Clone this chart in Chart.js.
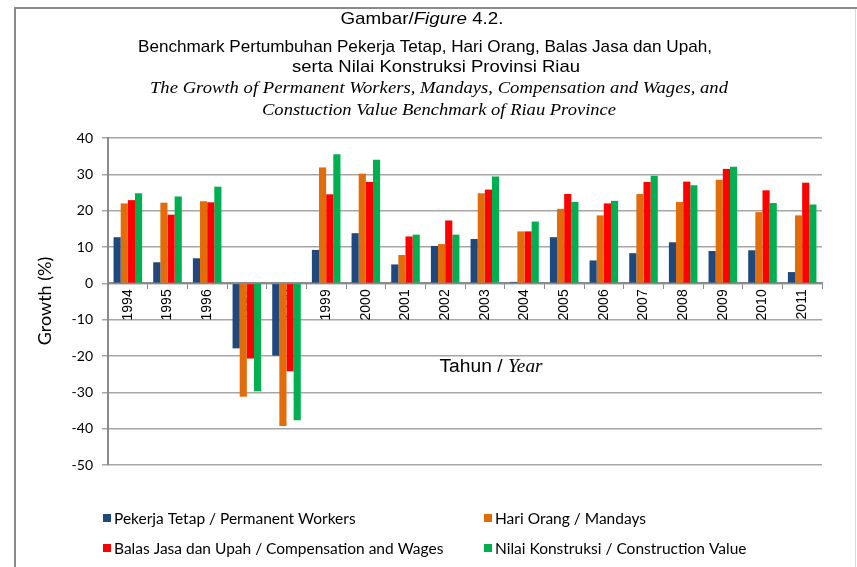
<!DOCTYPE html>
<html>
<head>
<meta charset="utf-8">
<script src="https://cdn.jsdelivr.net/npm/chart.js@4.4.0/dist/chart.umd.min.js"></script>
<style>
  html, body { margin: 0; padding: 0; background: #fff; }
  #wrap { width: 857px; height: 567px; position: relative; }
</style>
</head>
<body>
<div id="wrap"><canvas id="chart" width="857" height="567"></canvas></div>
<script>
// --- data ---
const years = ['1994', '1995', '1996', '1997', '1998', '1999', '2000', '2001', '2002',
               '2003', '2004', '2005', '2006', '2007', '2008', '2009', '2010', '2011'];
const permanentWorkers = [12.7, 5.8, 6.9, -17.9, -19.9, 9.2, 13.8, 5.2, 10.3, 12.2, 0.4, 12.7, 6.3, 8.3, 11.3, 8.9, 9.1, 3.1];
const mandays = [22.0, 22.2, 22.6, -31.2, -39.3, 31.9, 30.2, 7.8, 10.8, 24.8, 14.3, 20.5, 18.7, 24.6, 22.4, 28.5, 19.6, 18.7];
const compensation = [22.9, 18.9, 22.3, -20.7, -24.2, 24.5, 27.9, 12.9, 17.3, 25.8, 14.3, 24.6, 22.0, 27.9, 28.0, 31.5, 25.6, 27.7];
const constructionValue = [24.8, 23.9, 26.6, -29.7, -37.7, 35.5, 34.0, 13.4, 13.4, 29.4, 17.0, 22.4, 22.7, 29.6, 27.0, 32.1, 22.1, 21.7];
const seriesLabels = [
    'Pekerja Tetap / Permanent Workers',
    'Hari Orang / Mandays',
    'Balas Jasa dan Upah / Compensation and Wages',
    'Nilai Konstruksi / Construction Value'
];
const seriesColors = ['#1F497D', '#E36C0A', '#FF0000', '#00B050'];
const yMin = -50, yMax = 40, yStep = 10;

const SANS = '"Liberation Sans", Arial, sans-serif';
const SERIF = '"Liberation Serif", "Times New Roman", serif';
const CAL = 'Lato, "Open Sans", sans-serif';

// draw a line of mixed-font text centred at cx, squeezed to width w (or by factor)
function drawParts(ctx, parts, cx, cy, target) {
    ctx.save();
    ctx.textBaseline = 'middle';
    ctx.textAlign = 'left';
    ctx.fillStyle = '#000';
    let w = 0;
    parts.forEach(p => { ctx.font = p[1]; w += ctx.measureText(p[0]).width; });
    const sx = target > 2 ? target / w : target;
    ctx.translate(cx - w * sx / 2, cy);
    ctx.scale(sx, 1);
    let x = 0;
    parts.forEach(p => { ctx.font = p[1]; ctx.fillText(p[0], x, 0); x += ctx.measureText(p[0]).width; });
    ctx.restore();
}

const decor = {
    id: 'decor',
    afterDraw(chart) {
        const ctx = chart.ctx;
        const fSans = '17px ' + SANS, fSansI = 'italic 17px ' + SANS, fSerifI = 'italic 17px ' + SERIF;

        // frame
        ctx.save();
        ctx.strokeStyle = '#8a8a8a';
        ctx.lineWidth = 2;
        ctx.beginPath();
        ctx.moveTo(15, 567); ctx.lineTo(15, 8); ctx.lineTo(857, 8);
        ctx.stroke();
        ctx.strokeStyle = '#d8d8d8';
        ctx.lineWidth = 1;
        ctx.beginPath(); ctx.moveTo(855.5, 9); ctx.lineTo(855.5, 567); ctx.stroke();
        ctx.restore();

        // titles
        drawParts(ctx, [['Gambar/', fSans], ['Figure', fSansI], [' 4.2.', fSans]], 422, 19, 163);
        drawParts(ctx, [['Benchmark Pertumbuhan Pekerja Tetap, Hari Orang, Balas Jasa dan Upah,', fSans]], 425, 47, 574);
        drawParts(ctx, [['serta Nilai Konstruksi Provinsi Riau', fSans]], 436, 67, 288);
        drawParts(ctx, [['The Growth of Permanent Workers, Mandays, Compensation and Wages, and', fSerifI]], 439, 89, 578);
        drawParts(ctx, [['Constuction Value Benchmark of Riau Province', fSerifI]], 439, 111, 354);

        // x axis title
        drawParts(ctx, [['Tahun ', '18px ' + SANS], ['/ ', '18px ' + SANS], ['Year', 'italic 18px ' + SERIF]], 491, 367, 103);

        // y axis title
        ctx.save();
        ctx.translate(45, 301);
        ctx.rotate(-Math.PI / 2);
        ctx.font = '18px ' + CAL;
        ctx.fillStyle = '#000';
        ctx.textAlign = 'center';
        ctx.textBaseline = 'middle';
        ctx.fillText('Growth (%)', 0, 0);
        ctx.restore();

        // legend, two columns
        const pos = [[103, 518], [484, 518], [103, 548], [484, 548]];
        ctx.save();
        ctx.font = '15.5px ' + CAL;
        ctx.textBaseline = 'middle';
        chart.data.datasets.forEach((ds, i) => {
            const [x, y] = pos[i];
            ctx.fillStyle = ds.backgroundColor;
            ctx.fillRect(x, y - 4, 8, 8);
            ctx.fillStyle = '#000';
            ctx.fillText(ds.label, x + 11, y + 1);
        });
        ctx.restore();
    }
};

const datasets = [permanentWorkers, mandays, compensation, constructionValue].map((d, i) => ({
    label: seriesLabels[i],
    data: d,
    backgroundColor: seriesColors[i],
    borderWidth: 0,
    barPercentage: 1,
    categoryPercentage: 0.72
}));

new Chart(document.getElementById('chart'), {
    type: 'bar',
    data: { labels: years, datasets },
    options: {
        responsive: false,
        animation: false,
        events: [],
        layout: { padding: { left: 0, top: 138, right: 35, bottom: 102 } },
        plugins: { legend: { display: false }, title: { display: false }, tooltip: { enabled: false } },
        scales: {
            x: {
                position: { y: 0 },
                z: 1,
                grid: { display: true, drawOnChartArea: false, drawTicks: true, tickLength: 5, color: '#8a8a8a', lineWidth: 1, offset: true },
                border: { display: true, color: '#8a8a8a', width: 2 },
                ticks: { minRotation: 90, maxRotation: 90, autoSkip: false, padding: 1, color: '#000', font: { family: SANS, size: 14 } }
            },
            y: {
                min: yMin, max: yMax,
                afterFit(scale) { scale.width = 108; },
                grid: { color: '#a6a6a6', lineWidth: 1.5, tickLength: 6 },
                border: { display: true, color: '#8a8a8a', width: 2 },
                ticks: { stepSize: yStep, padding: 9, color: '#000', font: { family: CAL, size: 14 } }
            }
        }
    },
    plugins: [decor]
});
</script>
</body>
</html>
